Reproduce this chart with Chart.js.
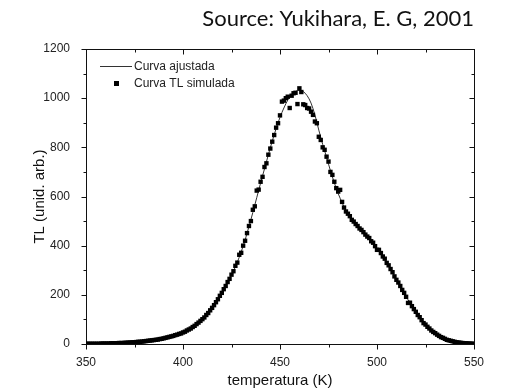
<!DOCTYPE html>
<html><head><meta charset="utf-8">
<script src="https://cdn.jsdelivr.net/npm/chart.js@4/dist/chart.umd.min.js"></script>
<style>html,body{margin:0;padding:0;background:#fff;}#wrap{width:505px;height:389px;position:relative}</style>
</head><body><div id="wrap"><canvas id="c" width="505" height="389"></canvas></div>
<script>
const chartTitle = 'Source: Yukihara, E. G, 2001';
const xTitle = 'temperatura (K)';
const yTitle = 'TL (unid. arb.)';
const legendLabels = ['Curva ajustada', 'Curva TL simulada'];
const xTicks = [350, 400, 450, 500, 550];
const xMinor = [375, 425, 475, 525];
const yTicks = [0, 200, 400, 600, 800, 1000, 1200];
const yMinor = [100, 300, 500, 700, 900, 1100];

const temps = [
350,351,352,353,354,355,356,357,358,359,
360,361,362,363,364,365,366,367,368,369,
370,371,372,373,374,375,376,377,378,379,
380,381,382,383,384,385,386,387,388,389,
390,391,392,393,394,395,396,397,398,399,
400,401,402,403,404,405,406,407,408,409,
410,411,412,413,414,415,416,417,418,419,
420,421,422,423,424,425,426,427,428,429,
430,431,432,433,434,435,436,437,438,439,
440,441,442,443,444,445,446,447,448,449,
450,451,452,453,454,455,456,457,458,459,
460,461,462,463,464,465,466,467,468,469,
470,471,472,473,474,475,476,477,478,479,
480,481,482,483,484,485,486,487,488,489,
490,491,492,493,494,495,496,497,498,499,
500,501,502,503,504,505,506,507,508,509,
510,511,512,513,514,515,516,517,518,519,
520,521,522,523,524,525,526,527,528,529,
530,531,532,533,534,535,536,537,538,539,
540,541,542,543,544,545,546,547,548,549,
550];

const fitValues = [
1,1,1,1,1,1,1,1,2,2,
2,2,2,3,3,3,3,4,4,4,
5,5,6,6,7,7,8,9,9,10,
11,12,13,14,15,16,17,18,20,21,
23,25,27,29,31,33,35,37,40,43,
46,50,54,58,63,68,74,80,86,93,
100,108,117,126,136,146,157,169,181,194,
207,221,235,250,265,281,297,314,333,353,
375,398,423,450,478,506,535,565,595,625,
655,684,712,741,770,798,825,851,876,900,
922,942,960,977,992,1004,1014,1022,1027,1031,
1032,1030,1027,1020,1010,997,980,958,932,902,
870,841,812,786,760,732,705,680,656,633,
612,593,575,558,543,529,517,506,495,486,
477,468,460,452,444,436,428,419,410,400,
390,379,368,356,344,331,318,305,291,277,
263,249,235,221,207,193,180,167,154,142,
130,119,108,98,88,79,71,63,56,49,
43,38,33,29,25,21,18,15,13,11,
9,7,6,5,4,3,3,2,2,1,
1];

const simValues = [
1,1,1,1,1,1,1,1,2,2,
2,2,2,3,3,3,3,4,4,4,
5,5,6,6,7,7,8,9,9,10,
11,12,13,14,15,16,17,18,20,21,
23,25,27,29,31,33,36,38,41,43,
47,50,55,59,63,69,74,81,87,94,
101,108,118,126,137,147,158,170,182,196,
208,223,236,252,265,282,296,318,331,363,
371,400,420,451,480,500,546,560,624,628,
660,680,720,735,770,795,823,850,880,898,
930,986,990,1000,1006,960,1010,1020,1022,976,
1040,1025,975,972,960,958,945,932,905,898,
843,830,800,790,762,742,700,688,660,634,
620,627,578,555,539,530,520,505,498,488,
480,470,464,455,445,437,431,418,412,398,
383,383,370,356,347,330,320,305,292,275,
261,250,236,220,208,192,167,168,154,142,
131,118,109,97,85,79,70,63,55,49,
44,38,33,28,25,21,17,15,13,11,
9,7,6,5,4,3,3,2,2,1,
1];

const fitData = temps.map((t, i) => ({x: t, y: fitValues[i]}));
const simData = temps.map((t, i) => ({x: t, y: simValues[i]}));

const FONT = '"Liberation Sans", Arial, sans-serif';
const AXIS_COLOR = '#111';

const framePlugin = {
  id: 'frame',
  beforeDatasetsDraw(chart) {
    const {ctx, chartArea: a, scales: {x, y}} = chart;
    ctx.save();
    ctx.strokeStyle = AXIS_COLOR;
    ctx.lineWidth = 1;
    ctx.strokeRect(Math.round(a.left) + 0.5, Math.round(a.top) + 0.5, Math.round(a.right - a.left), Math.round(a.bottom - a.top));
    ctx.beginPath();
    const bottom = Math.round(a.bottom) + 0.5, top = Math.round(a.top) + 0.5;
    const left = Math.round(a.left) + 0.5, right = Math.round(a.right) + 0.5;
    const tick = (list, len) => list.forEach(v => {
      const px = Math.round(x.getPixelForValue(v)) + 0.5;
      ctx.moveTo(px, bottom); ctx.lineTo(px, bottom + len);
      ctx.moveTo(px, top); ctx.lineTo(px, top + len);
    });
    tick(xTicks, 5); tick(xMinor, 3);
    const ytick = (list, len) => list.forEach(v => {
      const py = Math.round(y.getPixelForValue(v)) + 0.5;
      ctx.moveTo(left, py); ctx.lineTo(left - len, py);
      ctx.moveTo(right, py); ctx.lineTo(right - len, py);
    });
    ytick(yTicks, 5); ytick(yMinor, 3);
    ctx.stroke();
    ctx.restore();
  },
  afterDraw(chart) {
    const {ctx} = chart;
    const ds = chart.data.datasets;
    ctx.save();
    ctx.strokeStyle = ds[0].borderColor;
    ctx.lineWidth = ds[0].borderWidth;
    ctx.beginPath(); ctx.moveTo(100, 66.5); ctx.lineTo(132, 66.5); ctx.stroke();
    ctx.fillStyle = ds[1].backgroundColor;
    ctx.fillRect(114, 81, 5, 5);
    ctx.fillStyle = '#222';
    ctx.font = '12px ' + FONT;
    ctx.textBaseline = 'middle';
    ctx.textAlign = 'left';
    ctx.fillText(legendLabels[0], 134, 67);
    ctx.fillText(legendLabels[1], 134, 83.5);
    ctx.restore();
  }
};

new Chart(document.getElementById('c'), {
  type: 'scatter',
  data: {
    datasets: [
      {label: legendLabels[0], data: fitData, showLine: true, borderColor: '#333', borderWidth: 1, pointRadius: 0, tension: 0, order: 2},
      {label: legendLabels[1], data: simData, showLine: false, pointStyle: 'rect', pointRadius: 3.1, backgroundColor: '#000', borderColor: '#000', borderWidth: 0, order: 1}
    ]
  },
  options: {
    responsive: false,
    animation: false,
    devicePixelRatio: 1,
    layout: {padding: {left: 27, right: 31, top: 0, bottom: 0}},
    plugins: {
      legend: {display: false},
      tooltip: {enabled: false},
      title: {display: true, text: chartTitle, align: 'end', color: '#111',
        font: {family: 'Lato, "Open Sans", sans-serif', size: 22, weight: 'normal'},
        padding: {top: 6, bottom: 16.6}}
    },
    scales: {
      x: {
        type: 'linear', min: 350, max: 550,
        afterBuildTicks: s => { s.ticks = xTicks.map(v => ({value: v})); },
        afterFit: s => { s.height = 45; s.paddingLeft = 0; s.paddingRight = 0; },
        grid: {display: false}, border: {display: false},
        ticks: {color: '#222', font: {family: FONT, size: 12}, padding: 3, maxRotation: 0, callback: v => String(v)},
        title: {display: true, text: xTitle, color: '#111', font: {family: FONT, size: 15}, padding: {top: 0, bottom: -1}}
      },
      y: {
        type: 'linear', min: 0, max: 1200,
        afterBuildTicks: s => { s.ticks = yTicks.map(v => ({value: v})); },
        afterFit: s => { s.width = 59; s.paddingTop = 0; s.paddingBottom = 0; },
        grid: {display: false}, border: {display: false},
        ticks: {color: '#222', font: {family: FONT, size: 12}, padding: 8, callback: v => String(v)},
        title: {display: true, text: yTitle, color: '#111', font: {family: FONT, size: 15}, padding: {top: 4, bottom: 0}}
      }
    }
  },
  plugins: [framePlugin]
});
</script>
</body></html>
